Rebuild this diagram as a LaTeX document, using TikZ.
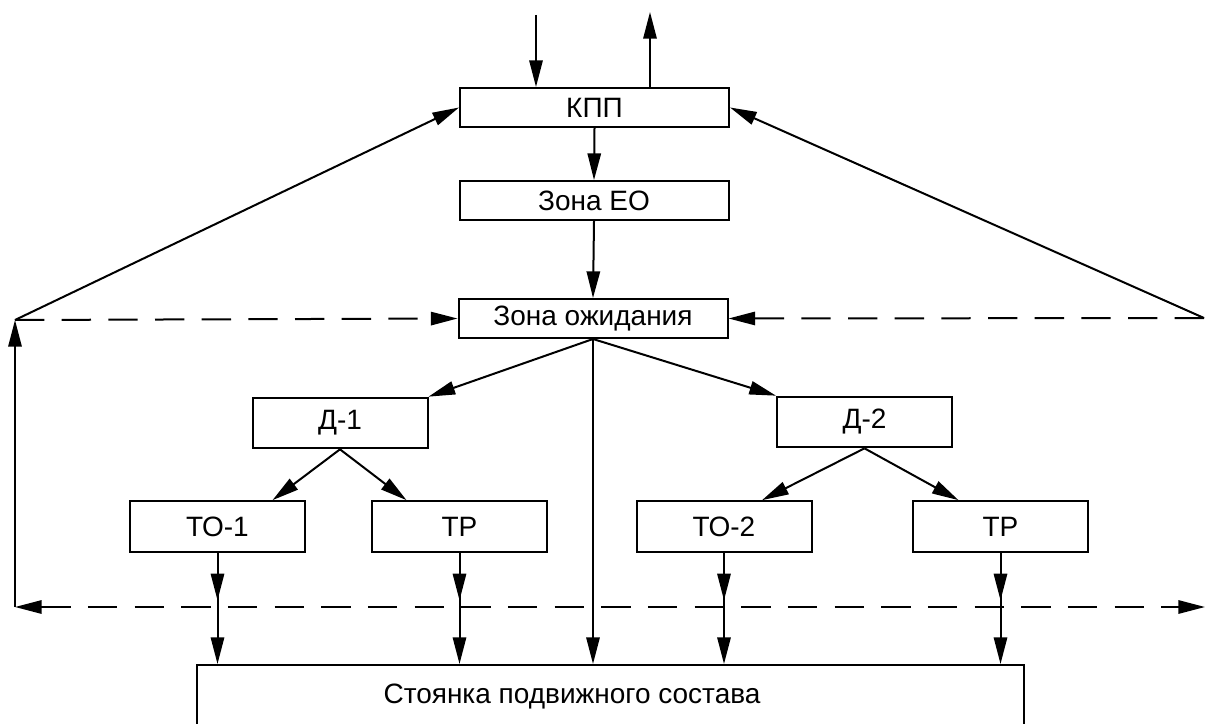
\documentclass[tikz,border=0pt]{standalone}
\usepackage{fontspec}
\setmainfont{Liberation Sans}
\usetikzlibrary{arrows.meta,calc}

\begin{document}
\begin{tikzpicture}[x=0.75pt,y=0.75pt,yscale=-1,
		>={Triangle[length=20pt,width=10pt]},
		blok/.style={draw,line width=1.5pt,inner sep=0pt,font=\fontsize{21}{25}\selectfont},
		wide/.style={blok,minimum width=201.75pt,minimum height=29.25pt},
		small/.style={blok,minimum width=131.25pt,minimum height=38pt},
		flow/.style={line width=1.5pt,->},
		back/.style={line width=1.5pt,dash pattern=on 22pt off 13pt}]
	\useasboundingbox (0,0) rectangle (1206,724);
	
	%Shape: Rectangle [id:kpp]
	\node[wide] (kpp) at (594.5,107.5) {КПП};
	%Shape: Rectangle [id:zonaeo]
	\node[wide] (zonaeo) at (594,200.5) {Зона ЕО};
	%Shape: Rectangle [id:ozhid]
	\node[wide] (ozhid) at (593,318.5) {Зона ожидания};
	%Shape: Rectangle [id:d1]
	\node[small] (d1) at (340,423) {Д-1};
	%Shape: Rectangle [id:d2]
	\node[small] (d2) at (864.5,422) {Д-2};
	%Shape: Rectangle [id:to1]
	\node[small] (to1) at (217.5,526.5) {ТО-1};
	%Shape: Rectangle [id:tr1]
	\node[small] (tr1) at (459.5,526.5) {ТР};
	%Shape: Rectangle [id:to2]
	\node[small] (to2) at (724,526.5) {ТО-2};
	%Shape: Rectangle [id:tr2]
	\node[small] (tr2) at (1000.5,526.5) {ТР};
	%Shape: Rectangle [id:stoyanka]
	\node[blok,minimum width=620.25pt,minimum height=48pt] (stoyanka) at (610.5,697) {};
	% Text Node
	\node[font=\fontsize{21}{25}\selectfont,inner sep=0pt] (stoyankatxt) at (572,697) {Стоянка подвижного состава};
	
	\coordinate (vhod) at (536,15);
	\coordinate (vyhod) at (650,12);
	\coordinate (lt) at (15,320);
	\coordinate (rt) at (1204,318);
	\coordinate (lb) at (15,607);
	\coordinate (rb) at (1205,607);
	
	%Straight Lines [id:top]
	\draw[flow] (vhod) -- (vhod |- kpp.north);
	\draw[flow] (vyhod |- kpp.north) -- (vyhod);
	\draw[flow] (kpp.south) -- (zonaeo.north);
	\draw[flow] (zonaeo.south) -- (ozhid.north);
	%Straight Lines [id:return]
	\draw[flow] (lt) -- (kpp.west);
	\draw[flow] (rt) -- (kpp.east);
	\draw[back,->] (lt) -- (ozhid.west);
	\draw[back,->] (rt) -- (ozhid.east);
	\draw[flow] (lb) -- (lt);
	\draw[back,<->] (lb) -- (rb);
	%Straight Lines [id:split]
	\draw[flow] (ozhid.south) -- (d1.north east);
	\draw[flow] (ozhid.south) -- (d2.north west);
	\draw[flow] (ozhid.south) -- (ozhid.south |- stoyanka.north);
	\draw[flow] (d1.south) -- ($(to1.north)+(55,0)$);
	\draw[flow] (d1.south) -- ($(tr1.north)+(-53,0)$);
	\draw[flow] (d2.south) -- ($(to2.north)+(38,0)$);
	\draw[flow] (d2.south) -- ($(tr2.north)+(-42,0)$);
	%Straight Lines [id:down]
	\foreach \n in {to1,tr1,to2,tr2} {
		\draw[flow] (\n.south) -- (\n.south |- stoyanka.north);
		\draw[flow,shorten >=5pt] (\n.south) -- (\n.south |- lb);
	}
	
\end{tikzpicture}
\end{document}
